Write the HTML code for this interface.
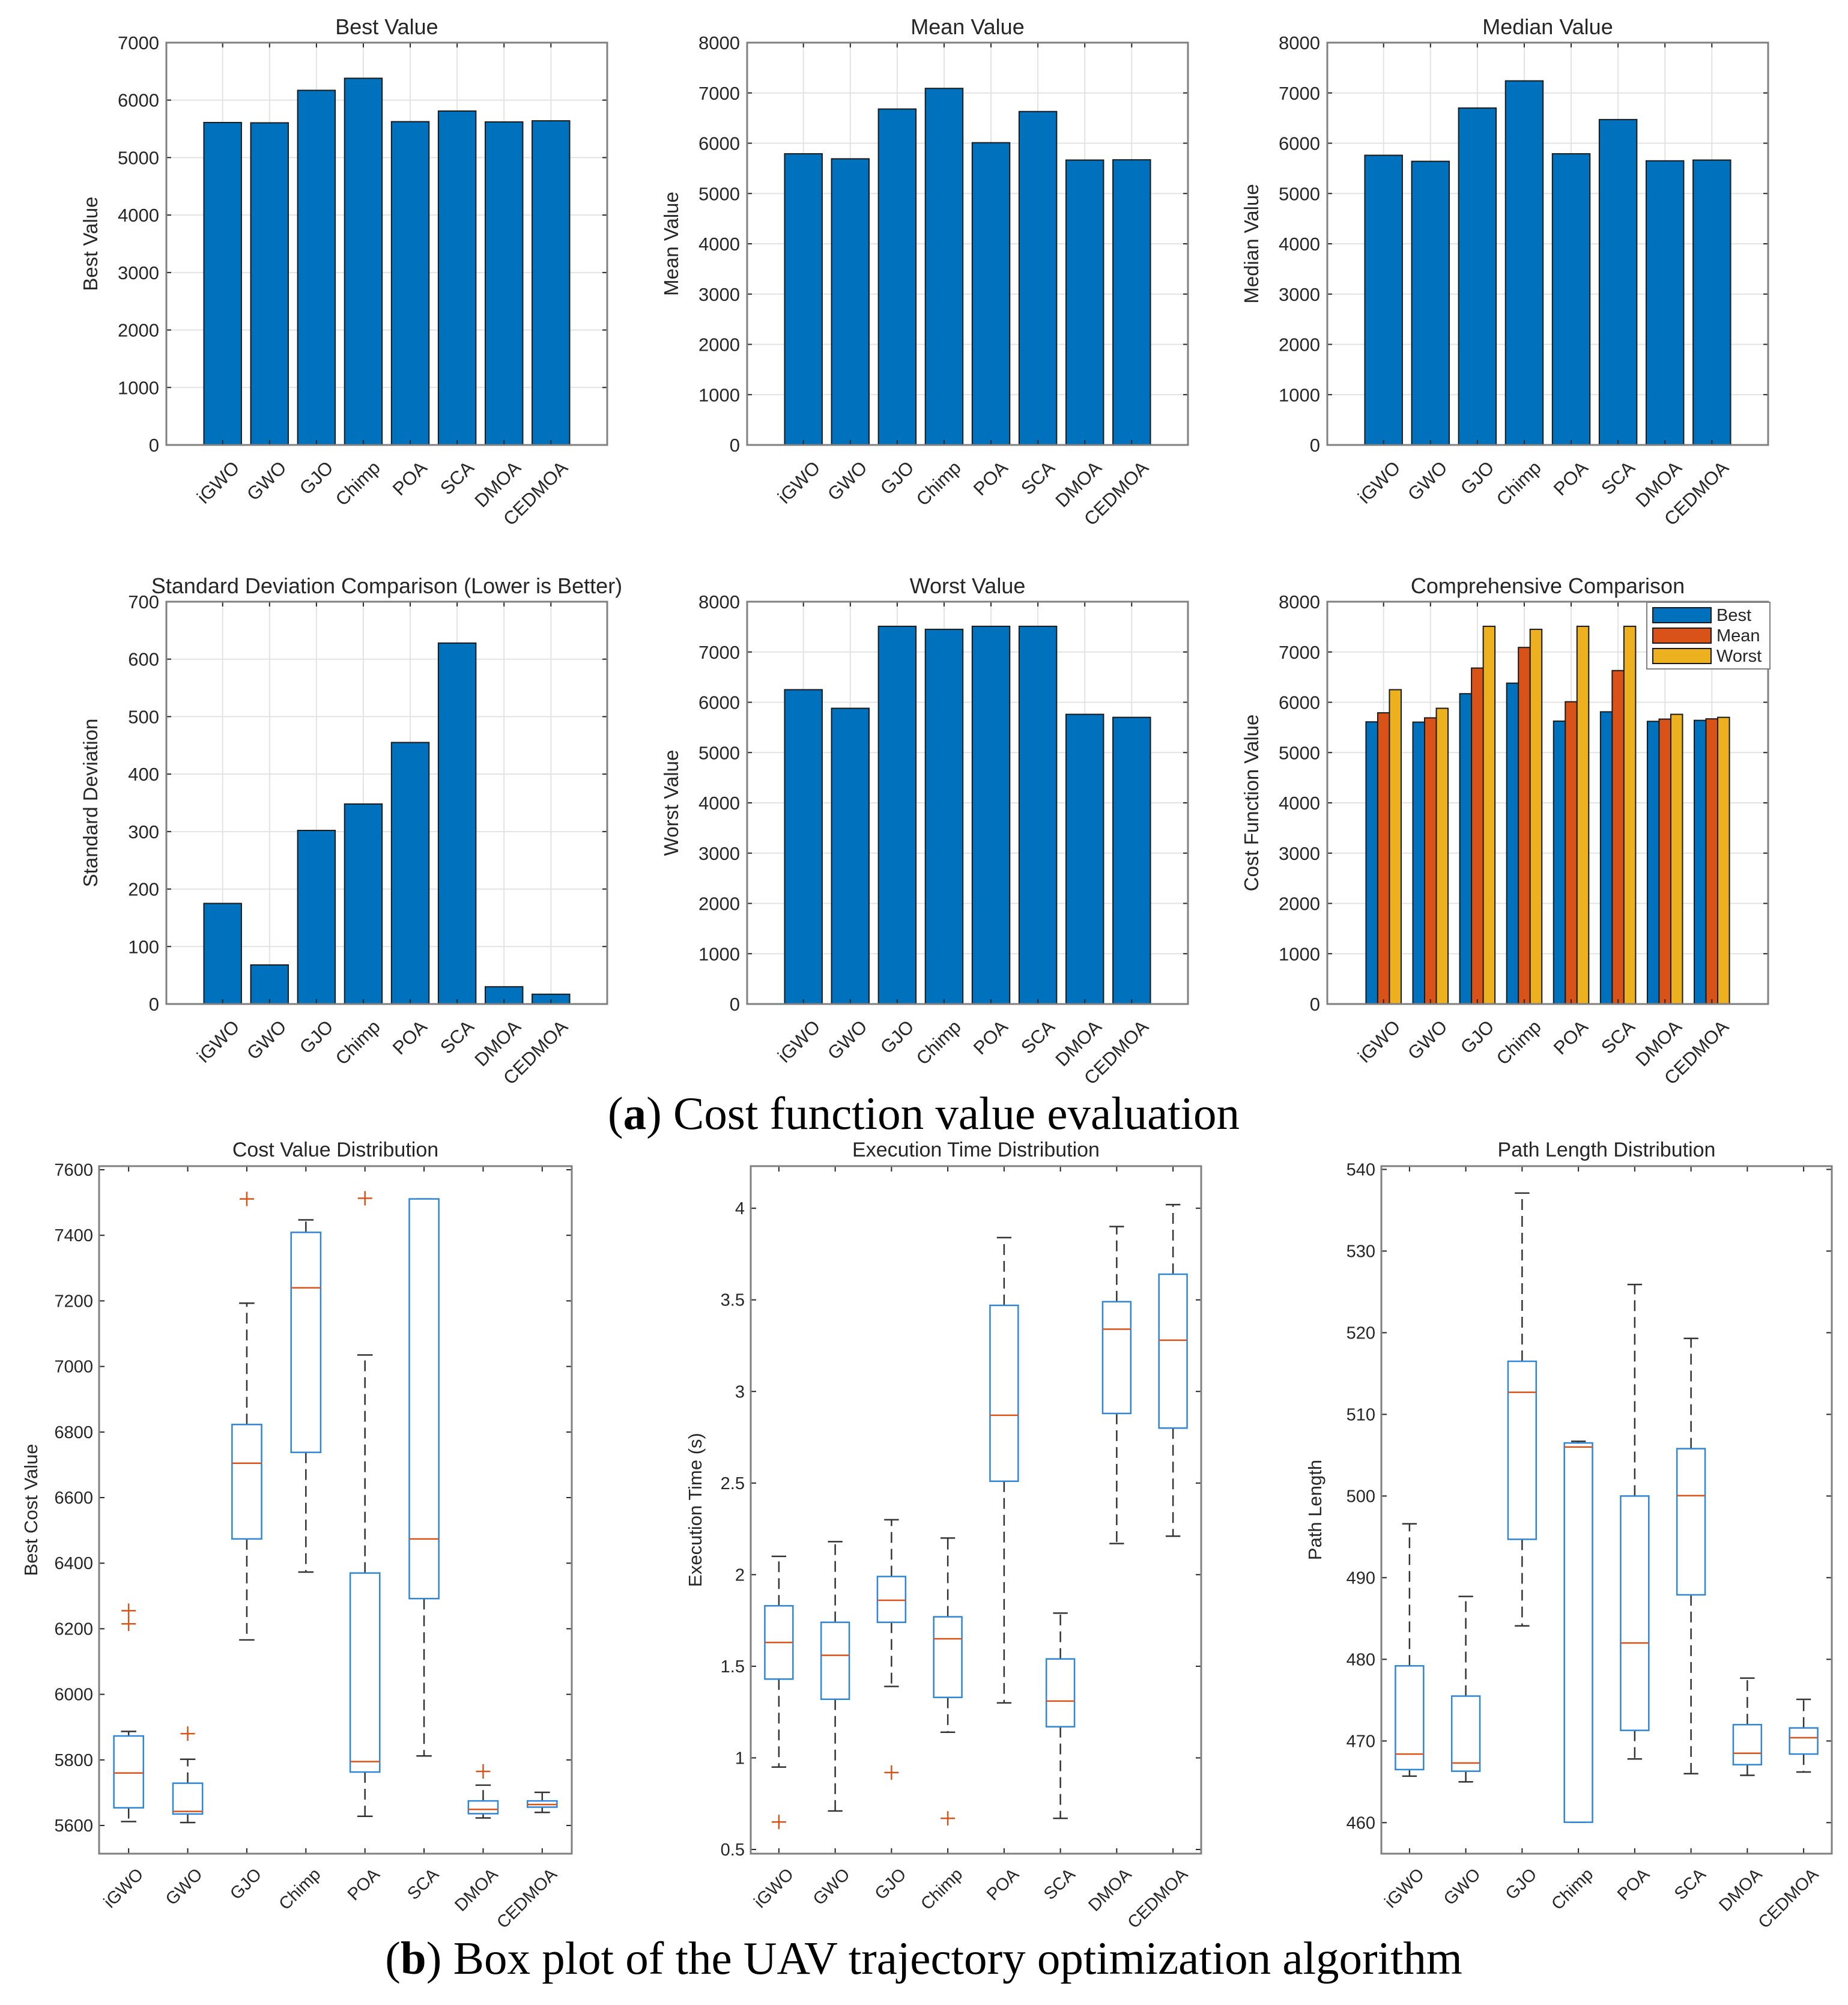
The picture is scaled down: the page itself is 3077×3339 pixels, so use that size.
<!DOCTYPE html>
<html><head><meta charset="utf-8">
<style>
html,body{margin:0;padding:0;background:#fff;}
svg{display:block;font-family:"Liberation Sans",Arial,sans-serif;}
</style></head>
<body>
<svg id="fig" width="3077" height="3339" viewBox="0 0 3077 3339" xmlns="http://www.w3.org/2000/svg">
<rect width="3077" height="3339" fill="#fff"/>
<text x="1538" y="1880" text-anchor="middle" font-family="Liberation Serif, serif" font-size="77" fill="#000">(<tspan font-weight="bold">a</tspan>) Cost function value evaluation</text>
<text x="1538" y="3287" text-anchor="middle" font-family="Liberation Serif, serif" font-size="77" fill="#000">(<tspan font-weight="bold">b</tspan>) Box plot of the UAV trajectory optimization algorithm</text>
</svg>
<script>
const categories = ["iGWO","GWO","GJO","Chimp","POA","SCA","DMOA","CEDMOA"];
const bestValues = [5610,5605,6170,6380,5625,5810,5620,5640];
const meanValues = [5790,5690,6680,7090,6010,6630,5665,5670];
const medianValues = [5760,5640,6700,7240,5790,6470,5650,5665];
const stdValues = [175,68,302,348,455,628,30,17];
const worstValuesFix = [6250,5880,7510,7450,7510,7510,5760,5700];
const ticks7000 = [0,1000,2000,3000,4000,5000,6000,7000];
const ticks8000 = [0,1000,2000,3000,4000,5000,6000,7000,8000];
const ticksStd = [0,100,200,300,400,500,600,700];
const legendLabels = ["Best","Mean","Worst"];
const costBoxes = [[5612,5654,5760,5873,5887],[5609,5635,5643,5729,5802],[6166,6474,6705,6823,7193],[6373,6738,7240,7409,7447],[5628,5763,5795,6370,7035],[5812,6292,6474,7511,7511],[5623,5636,5649,5675,5723],[5640,5656,5664,5675,5701]];
const costOutliers = [[6255,6215],[5880],[7511],[],[7513],[],[5765],[]];
const timeBoxes = [[0.95,1.43,1.63,1.83,2.10],[0.71,1.32,1.56,1.74,2.18],[1.39,1.74,1.86,1.99,2.30],[1.14,1.33,1.65,1.77,2.20],[1.30,2.51,2.87,3.47,3.84],[0.67,1.17,1.31,1.54,1.79],[2.17,2.88,3.34,3.49,3.90],[2.21,2.80,3.28,3.64,4.02]];
const timeOutliers = [[0.65],[],[0.92],[0.67],[],[],[],[]];
const pathBoxes = [[465.7,466.5,468.4,479.2,496.6],[465.0,466.3,467.3,475.5,487.7],[484.1,494.7,512.7,516.5,537.1],[460.05,460.05,506.0,506.5,506.7],[467.8,471.3,482.0,500.0,525.9],[466.0,487.9,500.05,505.8,519.3],[465.8,467.1,468.5,472.0,477.7],[466.2,468.4,470.4,471.6,475.1]];
const pathOutliers = [[],[],[],[],[],[],[],[]];
const costTicks = [5600,5800,6000,6200,6400,6600,6800,7000,7200,7400,7600];
const timeTicks = [0.5,1,1.5,2,2.5,3,3.5,4];
const pathTicks = [460,470,480,490,500,510,520,530,540];

const NS="http://www.w3.org/2000/svg";
const svg=document.getElementById("fig");
function el(tag,attrs,parent){const e=document.createElementNS(NS,tag);for(const k in attrs)e.setAttribute(k,attrs[k]);(parent||svg).appendChild(e);return e;}
const C1="#0072BD",C2="#D95319",C3="#EDB120";

function barChart(id,L,T,ymax,yticks,series,colors,title,ylabel,legend){
  const W=734,H=670;
  const g=el("g",{});
  
  
  const sx=v=>L+(v+0.2)*W/9.4;
  const sy=v=>T+H-v/ymax*H;
  yticks.forEach(t=>{
    const ln=el("line",{x1:L,x2:L+W,y1:sy(t),y2:sy(t),stroke:"#e3e3e3","stroke-width":2},g);
    
    
    el("line",{x1:L,x2:L+8,y1:sy(t),y2:sy(t),stroke:"#262626","stroke-width":2},g);
    el("line",{x1:L+W,x2:L+W-8,y1:sy(t),y2:sy(t),stroke:"#262626","stroke-width":2},g);
    const tx=el("text",{x:L-12,y:sy(t)+11,"text-anchor":"end","font-size":31,fill:"#262626"},g);
    tx.textContent=t;
    
    
  });
  categories.forEach((c,i)=>{
    const x=sx(i+1);
    el("line",{x1:x,x2:x,y1:T,y2:T+H,stroke:"#e3e3e3","stroke-width":2},g);
  });
  const n=series.length, bw=n===1?0.8:0.25;
  series.forEach((vals,s)=>{
    vals.forEach((v,i)=>{
      const off=n===1?0:(s-1)*0.25;
      const x0=sx(i+1+off-bw/2), x1=sx(i+1+off+bw/2);
      const r=el("rect",{x:x0,y:sy(v),width:x1-x0,height:sy(0)-sy(v),fill:colors[s],stroke:"#1a1a1a","stroke-width":2},g);
      
      
    });
  });
  categories.forEach((c,i)=>{
    const x=sx(i+1);
    el("line",{x1:x,x2:x,y1:T+H,y2:T+H-8,stroke:"#262626","stroke-width":2},g);
    el("line",{x1:x,x2:x,y1:T,y2:T+8,stroke:"#262626","stroke-width":2},g);
    const tx=el("text",{transform:`translate(${x+14},${T+H+24}) rotate(-45)`,"text-anchor":"end","font-size":31,fill:"#262626","dominant-baseline":"hanging"},g);
    tx.textContent=c;
    
    
  });
  const box=el("rect",{x:L,y:T,width:W,height:H,fill:"none",stroke:"#808080","stroke-width":3},g);
  
  
  const tt=el("text",{x:L+W/2,y:T-14,"text-anchor":"middle","font-size":36,fill:"#262626"},g);
  tt.textContent=title;
  
  
  const yl=el("text",{transform:`translate(${L-115},${T+H/2}) rotate(-90)`,"text-anchor":"middle","font-size":33,fill:"#262626"},g);
  yl.textContent=ylabel;
  
  
  if(legend){
    const lg=el("g",{},g);
    
    
    el("rect",{x:2742,y:1003,width:205,height:111,fill:"#fff",stroke:"#808080","stroke-width":2},lg);
    legendLabels.forEach((lab,k)=>{
      const yy=1012+k*34;
      const sw=el("rect",{x:2752,y:yy,width:97,height:25,fill:colors[k],stroke:"#1a1a1a","stroke-width":2},lg);
      
      
      const t=el("text",{x:2858,y:yy+22,"font-size":29,fill:"#262626"},lg);
      t.textContent=lab;
      
      
    });
  }
}

barChart("chart-best-value",277,71,7000,ticks7000,[bestValues],[C1],"Best Value","Best Value");
barChart("chart-mean-value",1244,71,8000,ticks8000,[meanValues],[C1],"Mean Value","Mean Value");
barChart("chart-median-value",2210,71,8000,ticks8000,[medianValues],[C1],"Median Value","Median Value");
barChart("chart-std",277,1002,700,ticksStd,[stdValues],[C1],"Standard Deviation Comparison (Lower is Better)","Standard Deviation");
barChart("chart-worst-value",1244,1002,8000,ticks8000,[worstValuesFix],[C1],"Worst Value","Worst Value");
barChart("chart-comprehensive",2210,1002,8000,ticks8000,[bestValues,meanValues,worstValuesFix],[C1,C2,C3],"Comprehensive Comparison","Cost Function Value",true);

function boxChart(id,L,R,ymin,ymax,yticks,boxes,outliers,title,ylabel,ylabelX){
  const T=1942,B=3087,W=R-L,H=B-T;
  const g=el("g",{});
  
  
  const sx=v=>L+(v-0.5)*W/8;
  const sy=v=>B-(v-ymin)/(ymax-ymin)*H;
  const unit=W/8;
  yticks.forEach(t=>{
    el("line",{x1:L,x2:L+9,y1:sy(t),y2:sy(t),stroke:"#262626","stroke-width":2},g);
    el("line",{x1:R,x2:R-9,y1:sy(t),y2:sy(t),stroke:"#262626","stroke-width":2},g);
    const tx=el("text",{x:L-10,y:sy(t)+10,"text-anchor":"end","font-size":29,fill:"#262626"},g);
    tx.textContent=t;
    
    
  });
  boxes.forEach((b,i)=>{
    const x=sx(i+1), hw=unit*0.25, cw=unit*0.13;
    const bg=el("g",{},g);
    
    
    el("line",{x1:x,x2:x,y1:sy(b[3]),y2:sy(b[4]),stroke:"#333","stroke-width":2.5,"stroke-dasharray":"18 10"},bg);
    el("line",{x1:x,x2:x,y1:sy(b[1]),y2:sy(b[0]),stroke:"#333","stroke-width":2.5,"stroke-dasharray":"18 10"},bg);
    el("line",{x1:x-cw,x2:x+cw,y1:sy(b[4]),y2:sy(b[4]),stroke:"#333","stroke-width":2.5},bg);
    el("line",{x1:x-cw,x2:x+cw,y1:sy(b[0]),y2:sy(b[0]),stroke:"#333","stroke-width":2.5},bg);
    el("rect",{x:x-hw,y:sy(b[3]),width:2*hw,height:Math.max(sy(b[1])-sy(b[3]),1),fill:"#fff",stroke:"#2f86d6","stroke-width":2.5},bg);
    el("line",{x1:x-hw,x2:x+hw,y1:sy(b[2]),y2:sy(b[2]),stroke:C2,"stroke-width":2.5},bg);
    outliers[i].forEach(o=>{
      const p=el("path",{d:`M${x-12},${sy(o)}H${x+12}M${x},${sy(o)-12}V${sy(o)+12}`,stroke:C2,"stroke-width":2.5},bg);
      
      
    });
    el("line",{x1:x,x2:x,y1:B,y2:B-9,stroke:"#262626","stroke-width":2},g);
    el("line",{x1:x,x2:x,y1:T,y2:T+9,stroke:"#262626","stroke-width":2},g);
    const tx=el("text",{transform:`translate(${x+12},${B+22}) rotate(-45)`,"text-anchor":"end","font-size":29,fill:"#262626","dominant-baseline":"hanging"},g);
    tx.textContent=categories[i];
    
    
  });
  const box=el("rect",{x:L,y:T,width:W,height:H,fill:"none",stroke:"#808080","stroke-width":3},g);
  
  
  const tt=el("text",{x:(L+R)/2,y:T-16,"text-anchor":"middle","font-size":34,fill:"#262626"},g);
  tt.textContent=title;
  
  
  const yl=el("text",{transform:`translate(${ylabelX},${(T+B)/2}) rotate(-90)`,"text-anchor":"middle","font-size":31,fill:"#262626"},g);
  yl.textContent=ylabel;
  
  
}
boxChart("boxplot-cost",165,952,5514,7611,costTicks,costBoxes,costOutliers,"Cost Value Distribution","Best Cost Value",62);
boxChart("boxplot-time",1250,2000,0.477,4.23,timeTicks,timeBoxes,timeOutliers,"Execution Time Distribution","Execution Time (s)",1168);
boxChart("boxplot-path",2300,3050,456.2,540.4,pathTicks,pathBoxes,pathOutliers,"Path Length Distribution","Path Length",2200);
</script>
</body></html>
